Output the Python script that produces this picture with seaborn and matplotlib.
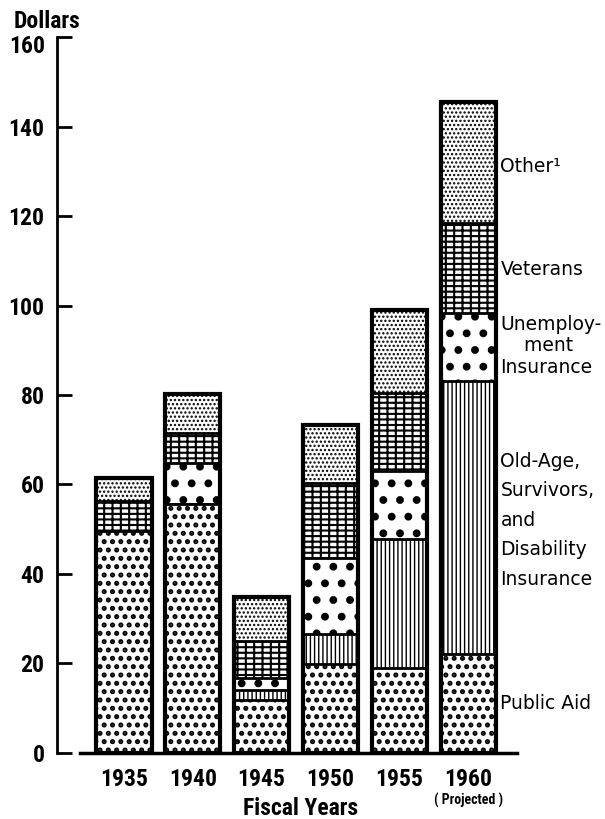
import matplotlib
matplotlib.use('Agg')
import matplotlib.pyplot as plt
import matplotlib.font_manager as fm
import seaborn as sns

# Social welfare expenditures per capita, dollars, by fiscal year
years = ['1935', '1940', '1945', '1950', '1955', '1960']
public_aid = [49.6, 55.7, 11.8, 19.9, 19.0, 22.1]
oasdi = [0.0, 0.0, 2.3, 6.7, 28.9, 61.1]
unemployment = [0.0, 9.0, 2.6, 17.0, 15.2, 15.2]
veterans = [6.8, 6.9, 8.4, 16.8, 17.4, 20.1]
other = [5.1, 8.7, 9.8, 13.0, 18.4, 26.9]

y_ticks = [0, 20, 40, 60, 80, 100, 120, 140, 160]

series_labels = ['Public Aid',
                 'Old-Age,\nSurvivors,\nand\nDisability\nInsurance',
                 'Unemploy-\n    ment\nInsurance',
                 'Veterans',
                 'Other\u00b9']
label_y = [11, 52, 91, 108, 131]

# bottom -> top: values, hatch, hatch line width
layers = [(public_aid, '..', 2.4),
          (oasdi, '||||', 1.0),
          (unemployment, '.', 3.2),
          (veterans, '---||', 1.5),
          (other, '....', 1.1)]

sns.set_theme(style='ticks')

# pick a narrow face for the tick labels if one is installed
fonts = fm.fontManager.ttflist
names = {f.name for f in fonts}
narrow = None
for cand in ['Liberation Sans Narrow', 'Roboto Condensed', 'Open Sans Condensed']:
    if cand in names:
        narrow = cand
        break
stretch = 'normal'
if narrow is None:
    cond = [f.name for f in fonts if f.stretch in ('condensed', 'semi-condensed')]
    if cond:
        narrow = 'DejaVu Sans' if 'DejaVu Sans' in cond else cond[0]
        stretch = 'condensed'
if narrow is None:
    narrow = 'Liberation Sans'
    tick_size = 16
else:
    tick_size = 17
plt.rcParams['font.family'] = [narrow, 'DejaVu Sans']
plt.rcParams['font.stretch'] = stretch
plt.rcParams['text.color'] = 'black'
plt.rcParams['axes.labelcolor'] = 'black'
plt.rcParams['xtick.color'] = 'black'
plt.rcParams['ytick.color'] = 'black'

fig = plt.figure(figsize=(6.05, 8.19), dpi=100)
ax = fig.add_axes([0.0942, 0.0806, 0.7603, 0.8742])

# cumulative tops, drawn from the top layer down so lower segments overlay
tops = []
running = [0.0] * len(years)
for vals, _, _ in layers:
    running = [r + v for r, v in zip(running, vals)]
    tops.append(list(running))

for i in range(len(layers) - 1, -1, -1):
    _, hatch, hlw = layers[i]
    plt.rcParams['hatch.linewidth'] = hlw
    n_before = len(ax.patches)
    sns.barplot(x=years, y=tops[i], order=years, color='white', saturation=1,
                edgecolor='black', linewidth=2, hatch=hatch, width=0.8,
                errorbar=None, ax=ax)
    for p in ax.patches[n_before:]:
        p.set_facecolor('white')
        if hasattr(p, 'set_hatch_linewidth'):
            p.set_hatch_linewidth(hlw)

# heavy outline around each full bar
sns.barplot(x=years, y=tops[-1], order=years, fill=False, color='black',
            linewidth=3, width=0.8, errorbar=None, ax=ax)

ax.set_xlim(-0.974, 5.71)
ax.set_ylim(0, 160)
# top label is set a little lower, below the "Dollars" heading
ax.set_yticks(y_ticks, [str(t) for t in y_ticks[:-1]] + [''])
ax.annotate(str(y_ticks[-1]), xy=(0, y_ticks[-1]),
            xycoords=('axes fraction', 'data'), xytext=(-8.6, -6.5),
            textcoords='offset points', ha='right', va='center',
            fontsize=tick_size, fontweight='bold')
sns.despine(ax=ax, top=True, right=True)
ax.spines['left'].set_linewidth(2)
ax.spines['left'].set_color('black')
ax.spines['bottom'].set_linewidth(2.5)
ax.spines['bottom'].set_color('black')
ax.spines['bottom'].set_bounds(-0.64, 5.71)
ax.tick_params(axis='y', direction='in', length=11, width=2, pad=9,
               labelsize=tick_size)
ax.tick_params(axis='x', length=0, pad=11, labelsize=tick_size)
for lab in ax.get_xticklabels() + ax.get_yticklabels():
    lab.set_fontweight('bold')

ax.set_xlabel('Fiscal Years', fontsize=tick_size, fontweight='bold')
ax.xaxis.set_label_coords(0.53, -0.061)
ax.set_ylabel('')

fig.text(0.022, 1 - 21 / 819, 'Dollars', fontsize=tick_size,
         fontweight='bold', va='center', ha='left')

ax.annotate('( Projected )', xy=(5, 0), xycoords=('data', 'axes fraction'),
            xytext=(0, -34), textcoords='offset points', ha='center',
            va='center', fontsize=10, fontweight='bold')

spacing = [1.1, 1.7, 1.15, 1.1, 1.1]
for txt, yv, ls in zip(series_labels, label_y, spacing):
    ax.text(5.47, yv, txt, ha='left', va='center', fontsize=13.5,
            family=['DejaVu Sans'], stretch='normal', linespacing=ls,
            clip_on=False)

fig.savefig('out.png', dpi=100)
